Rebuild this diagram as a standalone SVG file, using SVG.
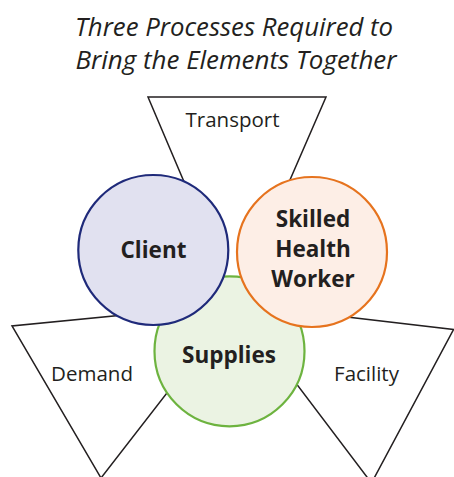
<svg xmlns="http://www.w3.org/2000/svg" width="454" height="477" viewBox="0 0 454 477">
  <style>
    .title { font-family: "Open Sans", "Liberation Sans", sans-serif; font-style: italic; font-size: 25px; fill: #231f20; text-anchor: middle; }
    .tri { fill: #ffffff; stroke: #231f20; stroke-width: 1.5; stroke-linejoin: miter; }
    .tri-label { font-family: "Open Sans", "Liberation Sans", sans-serif; font-size: 20.5px; fill: #231f20; text-anchor: middle; }
    .circle-label { font-family: "Open Sans", "Liberation Sans", sans-serif; font-weight: bold; font-size: 22.5px; fill: #231f20; text-anchor: middle; }
    .ring { stroke-width: 2.2; }
  </style>

  <rect width="454" height="477" fill="#ffffff"/>

  <!-- heading -->
  <g id="title">
    <text class="title" x="234" y="36" textLength="318" lengthAdjust="spacingAndGlyphs">Three Processes Required to</text>
    <text class="title" x="236" y="68.5" textLength="321" lengthAdjust="spacingAndGlyphs">Bring the Elements Together</text>
  </g>

  <!-- process funnels radiating from the shared centre -->
  <g id="transport">
    <polygon class="tri" points="148,97 326,97 236,304"/>
    <text class="tri-label" x="232.5" y="126.5">Transport</text>
  </g>
  <g id="demand">
    <polygon class="tri" points="236,304 12,326 101,478"/>
    <text class="tri-label" x="92" y="381">Demand</text>
  </g>
  <g id="facility">
    <polygon class="tri" points="236,304 453.5,329.5 371.5,483"/>
    <text class="tri-label" x="366.5" y="381">Facility</text>
  </g>

  <!-- elements -->
  <g id="supplies">
    <circle class="ring" cx="229.5" cy="351.3" r="75" fill="#ebf3e3" stroke="#6db33f"/>
    <text class="circle-label" x="229" y="363">Supplies</text>
  </g>
  <g id="client">
    <circle class="ring" cx="153.3" cy="250" r="75" fill="#e1e1f0" stroke="#1f2a7a"/>
    <text class="circle-label" x="153.5" y="258">Client</text>
  </g>
  <g id="skilled-health-worker">
    <circle class="ring" cx="312" cy="252" r="75" fill="#fdeee6" stroke="#e6731e"/>
    <text class="circle-label" x="313" y="226.5">Skilled</text>
    <text class="circle-label" x="313" y="256.5">Health</text>
    <text class="circle-label" x="313" y="287">Worker</text>
  </g>

  <g id="connectors"/>
</svg>
